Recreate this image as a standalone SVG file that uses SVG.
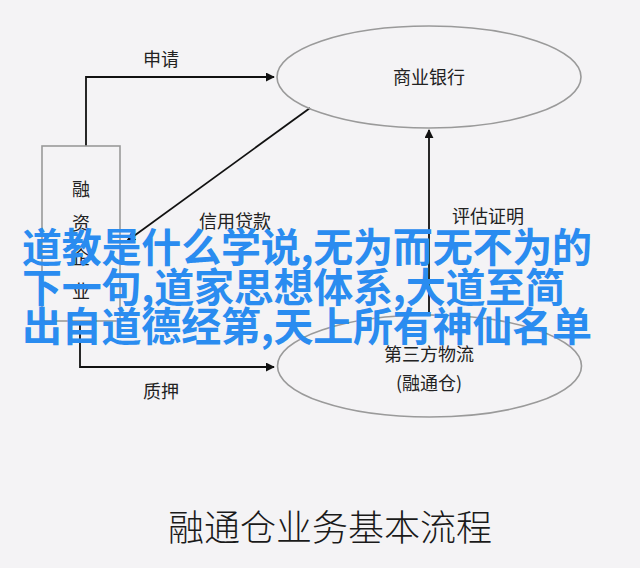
<svg xmlns="http://www.w3.org/2000/svg" width="640" height="568" viewBox="0 0 640 568">
<defs>
<style>
.lbl{font-family:"Noto Sans CJK SC","Noto Sans CJK TC",sans-serif;font-size:18px;fill:#222;text-anchor:middle;dominant-baseline:central}
.node{fill:none;stroke:#9a9a9a;stroke-width:1.6}
.conn{fill:none;stroke:#111;stroke-width:1.8}
.blue{font-family:"Noto Sans CJK SC","Noto Sans CJK TC",sans-serif;font-size:40px;font-weight:bold;fill:#2a8cf0}
.title{font-family:"Noto Sans CJK SC","Noto Sans CJK TC",sans-serif;font-size:36px;font-weight:300;fill:#1a1a1a;text-anchor:middle;dominant-baseline:central}
</style>
<marker id="arr" viewBox="0 0 10 10" refX="9" refY="5" markerWidth="9" markerHeight="9" markerUnits="userSpaceOnUse" orient="auto">
<path d="M0,0 L10,5 L0,10 z" fill="#111"/>
</marker>
</defs>
<rect width="640" height="568" fill="#f4f3f5"/>
<g id="connectors">
<polyline class="conn" points="86,146 86,77 274,77" marker-end="url(#arr)"/>
<line class="conn" x1="310" y1="108" x2="127" y2="241" marker-end="url(#arr)"/>
<line class="conn" x1="429" y1="315" x2="429" y2="130" marker-end="url(#arr)"/>
<polyline class="conn" points="80,321 80,367 274,367" marker-end="url(#arr)"/>
<text class="lbl" x="161" y="58">申请</text>
<text class="lbl" x="235" y="220">信用贷款</text>
<text class="lbl" x="488" y="215">评估证明</text>
<text class="lbl" x="161" y="390">质押</text>
</g>
<g id="node-company">
<rect class="node" x="42" y="146" width="78" height="175" stroke-width="2"/>
<text class="lbl" x="81" y="188" font-size="21">融</text>
<text class="lbl" x="81" y="222" font-size="21">资</text>
<text class="lbl" x="81" y="256" font-size="21">企</text>
<text class="lbl" x="81" y="290" font-size="21">业</text>
</g>
<g id="node-bank">
<ellipse class="node" cx="429" cy="77" rx="152" ry="51"/>
<text class="lbl" x="429" y="76" font-size="19">商业银行</text>
</g>
<g id="node-logistics">
<ellipse class="node" cx="429.5" cy="366" rx="152" ry="51"/>
<text class="lbl" x="429" y="353">第三方物流</text>
<text class="lbl" x="429" y="382">(融通仓)</text>
</g>
<g id="overlay">
<text class="blue" x="22" y="262" textLength="570" lengthAdjust="spacing">道教是什么学说,无为而无不为的</text>
<text class="blue" x="22" y="302" textLength="543" lengthAdjust="spacing">下一句,道家思想体系,大道至简</text>
<text class="blue" x="22" y="341" textLength="570" lengthAdjust="spacing">出自道德经第,天上所有神仙名单</text>
</g>
<text class="title" x="330" y="525">融通仓业务基本流程</text>
</svg>
